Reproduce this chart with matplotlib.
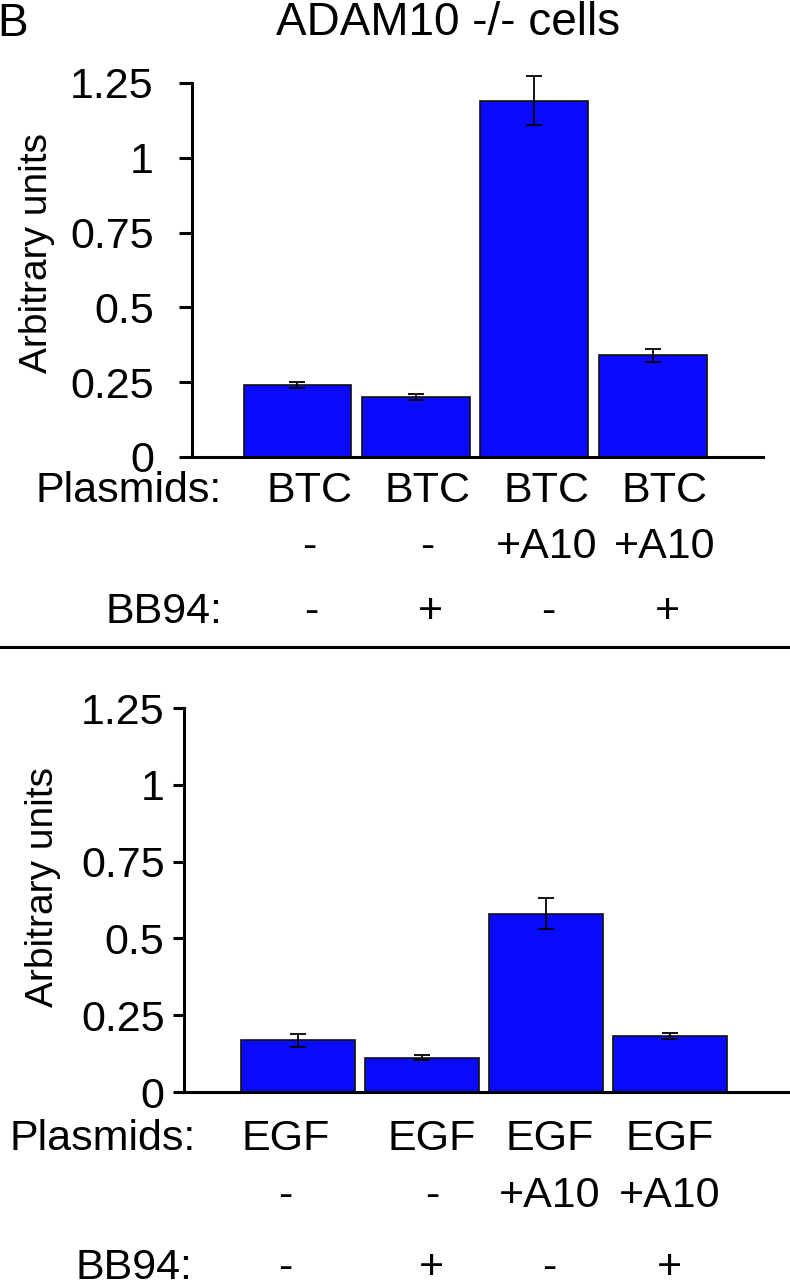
import matplotlib
matplotlib.use("Agg")
import matplotlib.pyplot as plt
import matplotlib.transforms as mtransforms
from matplotlib.lines import Line2D
import numpy as np

plt.rcParams["font.family"] = ["Liberation Sans", "DejaVu Sans"]

# values
btc_means = [0.24, 0.20, 1.19, 0.34]
btc_err = [0.011, 0.010, 0.082, 0.022]
egf_means = [0.168, 0.112, 0.58, 0.182]
egf_err = [0.020, 0.008, 0.050, 0.010]

btc_plasmids = ["BTC", "BTC", "BTC", "BTC"]
egf_plasmids = ["EGF", "EGF", "EGF", "EGF"]
a10_row = ["-", "-", "+A10", "+A10"]
bb94_row = ["-", "+", "-", "+"]

ytick_values = [0, 0.25, 0.5, 0.75, 1, 1.25]
ytick_labels = ["0", "0.25", "0.5", "0.75", "1", "1.25"]

W, H = 790, 1280
BLUE = "#0a0aff"


def fy(y):
    return 1 - y / H


def fx(x):
    return x / W


def draw_panel(ax, means, err, xlim, width, tick_len, tick_pad):
    x = np.arange(len(means))
    ax.bar(x, means, width=width, color=BLUE, edgecolor="#111111", linewidth=1.2)
    eb = ax.errorbar(x, means, yerr=err, fmt="none", ecolor="black",
                     elinewidth=1.3, capsize=6, capthick=1.3)
    for part in eb.lines:
        if part is None:
            continue
        items = part if isinstance(part, tuple) else (part,)
        for a in items:
            a.set_clip_on(False)
    ax.set_xlim(*xlim)
    ax.set_ylim(0, 1.25)
    ax.set_xticks([])
    ax.set_yticks(ytick_values)
    ax.set_yticklabels(ytick_labels)
    ax.tick_params(axis="y", length=tick_len, width=2.2, pad=tick_pad, labelsize=31)
    for side in ("top", "right"):
        ax.spines[side].set_visible(False)
    for side in ("left", "bottom"):
        ax.spines[side].set_linewidth(2.2)


fig = plt.figure(figsize=(W / 100, H / 100), dpi=100)

ax_top = fig.add_axes([fx(192), fy(457), (763 - 192) / W, (457 - 83) / H])
draw_panel(ax_top, btc_means, btc_err, (-0.89, 3.93), 0.91, 9.5, 18)

ax_bot = fig.add_axes([fx(184), fy(1092), (790 - 184) / W, (1092 - 708) / H])
draw_panel(ax_bot, egf_means, egf_err, (-0.92, 3.97), 0.92, 8, 6)

fs = 31
# category rows under each panel
tr_top = mtransforms.blended_transform_factory(ax_top.transData, fig.transFigure)
for i in range(4):
    ax_top.text(i + 0.1, fy(502), btc_plasmids[i], transform=tr_top,
                ha="center", va="baseline", fontsize=fs)
    ax_top.text(i + 0.1, fy(558), a10_row[i], transform=tr_top,
                ha="center", va="baseline", fontsize=fs)
    ax_top.text(i + 0.12, fy(623), bb94_row[i], transform=tr_top,
                ha="center", va="baseline", fontsize=fs)

tr_bot = mtransforms.blended_transform_factory(ax_bot.transData, fig.transFigure)
bot_offsets = [-0.1, 0.08, 0.03, 0.0]
for i in range(4):
    ax_bot.text(i + bot_offsets[i], fy(1150), egf_plasmids[i], transform=tr_bot,
                ha="center", va="baseline", fontsize=fs)
    ax_bot.text(i + bot_offsets[i], fy(1207), a10_row[i], transform=tr_bot,
                ha="center", va="baseline", fontsize=fs)
    ax_bot.text(i + bot_offsets[i], fy(1279), bb94_row[i], transform=tr_bot,
                ha="center", va="baseline", fontsize=fs)

fig.text(fx(222), fy(502), "Plasmids:", ha="right", va="baseline", fontsize=fs)
fig.text(fx(222), fy(623), "BB94:", ha="right", va="baseline", fontsize=fs)
fig.text(fx(196), fy(1150), "Plasmids:", ha="right", va="baseline", fontsize=fs)
fig.text(fx(192), fy(1279), "BB94:", ha="right", va="baseline", fontsize=fs)

fig.text(fx(37), fy(253), "Arbitrary units", rotation=90, ha="center", va="center", fontsize=28)
fig.text(fx(43), fy(887), "Arbitrary units", rotation=90, ha="center", va="center", fontsize=28)

fig.text(fx(448), fy(35), "ADAM10 -/- cells", ha="center", va="baseline", fontsize=33)
fig.text(fx(-3), fy(36), "B", ha="left", va="baseline", fontsize=33)

fig.add_artist(Line2D([0, 1], [fy(647), fy(647)], transform=fig.transFigure,
                      color="black", linewidth=2.2))

fig.savefig("out.png", dpi=100)
